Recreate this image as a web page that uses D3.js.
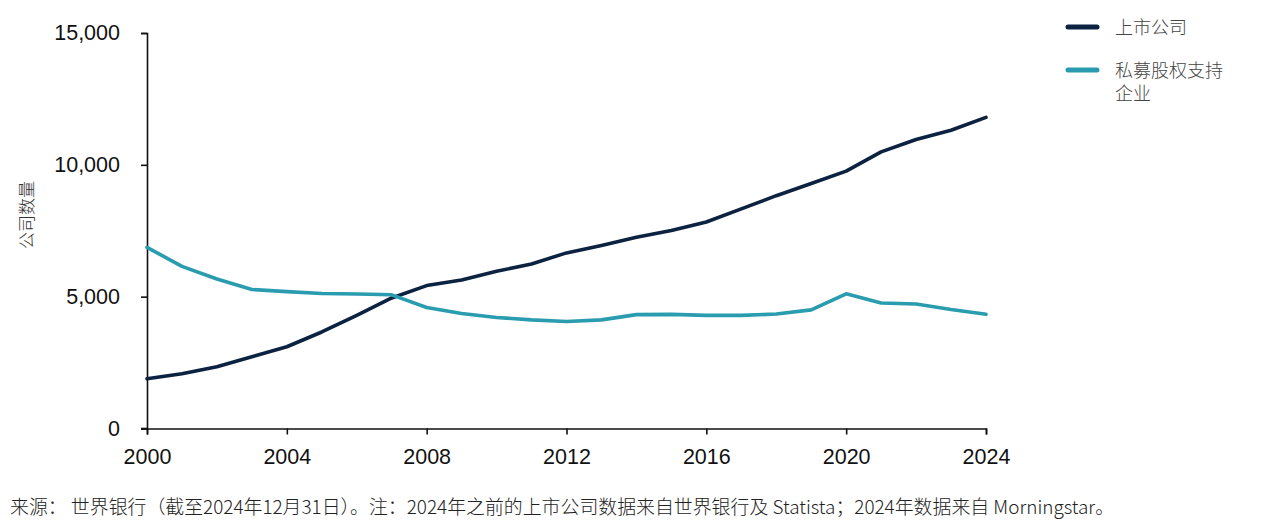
<!DOCTYPE html>
<html>
<head>
<meta charset="utf-8">
<script src="https://cdn.jsdelivr.net/npm/d3@7"></script>
<style>
  html, body { margin: 0; padding: 0; background: #fff; }
  svg { display: block; }
  .cjk { font-family: "Noto Sans CJK SC", "Noto Sans", sans-serif; }
  .num { font-family: "Liberation Sans", Arial, sans-serif; }
</style>
</head>
<body>
<svg id="chart"></svg>
<script>
// ------------------------------------------------------------
// Data
// ------------------------------------------------------------
const years = [2000, 2001, 2002, 2003, 2004, 2005, 2006, 2007, 2008, 2009, 2010, 2011, 2012,
  2013, 2014, 2015, 2016, 2017, 2018, 2019, 2020, 2021, 2022, 2023, 2024];

const listedCompanies = [1890, 2080, 2340, 2720, 3100, 3660, 4290, 4950, 5420, 5630, 5960, 6240, 6660,
  6940, 7250, 7510, 7830, 8330, 8830, 9290, 9760, 10490, 10960, 11310, 11800];

const peBacked = [6870, 6150, 5670, 5270, 5190, 5120, 5100, 5070, 4590, 4360, 4210, 4120, 4060,
  4120, 4320, 4330, 4290, 4290, 4340, 4500, 5110, 4760, 4720, 4510, 4330];

const yTicks = [0, 5000, 10000, 15000];
const xTicks = [2000, 2004, 2008, 2012, 2016, 2020, 2024];

const series = [
  { name: ["上市公司"], values: listedCompanies, color: "#0b2240" },
  { name: ["私募股权支持", "企业"], values: peBacked, color: "#2a9caf" }
];

const yLabel = "公司数量";
const footnote = "来源： 世界银行（截至2024年12月31日）。注：2024年之前的上市公司数据来自世界银行及 Statista；2024年数据来自 Morningstar。";

// ------------------------------------------------------------
// Layout
// ------------------------------------------------------------
const W = 1279, H = 528;
const plot = { left: 147, right: 986, top: 33, bottom: 428.5 };

const svg = d3.select("#chart").attr("width", W).attr("height", H);

const x = d3.scaleLinear().domain([2000, 2024]).range([plot.left, plot.right]);
const y = d3.scaleLinear().domain([0, 15000]).range([plot.bottom, plot.top]);

// Axes
const xAxisG = svg.append("g")
  .attr("transform", `translate(0,${plot.bottom})`)
  .call(d3.axisBottom(x).tickValues(xTicks).tickFormat(d3.format("d")).tickSizeOuter(0).tickSize(6).tickPadding(14));

const yAxisG = svg.append("g")
  .attr("transform", `translate(${plot.left},0)`)
  .call(d3.axisLeft(y).tickValues(yTicks).tickFormat(d3.format(",")).tickSizeOuter(0).tickSize(6).tickPadding(21));

[xAxisG, yAxisG].forEach(g => {
  g.select(".domain").attr("stroke", "#111").attr("stroke-width", 1.6);
  g.selectAll(".tick line").attr("stroke", "#111").attr("stroke-width", 1.6);
  g.selectAll(".tick text")
    .attr("class", "num")
    .attr("fill", "#111")
    .style("font-size", "21.5px");
});

// small stub of the x axis left of the y axis, as in the reference
svg.append("line")
  .attr("x1", plot.left - 6).attr("x2", plot.left)
  .attr("y1", plot.bottom).attr("y2", plot.bottom)
  .attr("stroke", "#111").attr("stroke-width", 1.6);

// Y axis title
svg.append("text")
  .attr("class", "cjk")
  .attr("transform", `translate(25,${215}) rotate(-90)`)
  .attr("text-anchor", "middle")
  .attr("dominant-baseline", "central")
  .attr("fill", "#333")
  .style("font-size", "17px")
  .style("font-weight", 300)
  .text(yLabel);

// Lines
const line = d3.line()
  .x((d, i) => x(years[i]))
  .y(d => y(d));

series.forEach(s => {
  svg.append("path")
    .datum(s.values)
    .attr("fill", "none")
    .attr("stroke", s.color)
    .attr("stroke-width", 3.6)
    .attr("stroke-linejoin", "round")
    .attr("stroke-linecap", "round")
    .attr("d", line);
});

// Legend
const legend = svg.append("g").attr("transform", "translate(1068,27)");
let ly = 0;
series.forEach(s => {
  legend.append("line")
    .attr("x1", 0).attr("x2", 29)
    .attr("y1", ly).attr("y2", ly)
    .attr("stroke", s.color)
    .attr("stroke-width", 5)
    .attr("stroke-linecap", "round");
  const t = legend.append("text")
    .attr("class", "cjk")
    .attr("x", 47)
    .attr("y", ly + 6.5)
    .attr("fill", "#444")
    .style("font-size", "18px")
    .style("font-weight", 300);
  s.name.forEach((str, j) => {
    t.append("tspan")
      .attr("x", 47)
      .attr("dy", j === 0 ? 0 : 23)
      .text(str);
  });
  ly += 43;
});

// Footnote
svg.append("text")
  .attr("class", "cjk")
  .attr("x", 10)
  .attr("y", 505)
  .attr("dominant-baseline", "central")
  .attr("fill", "#222")
  .style("font-size", "18.9px")
  .style("font-weight", 300)
  .text(footnote);
</script>
</body>
</html>
